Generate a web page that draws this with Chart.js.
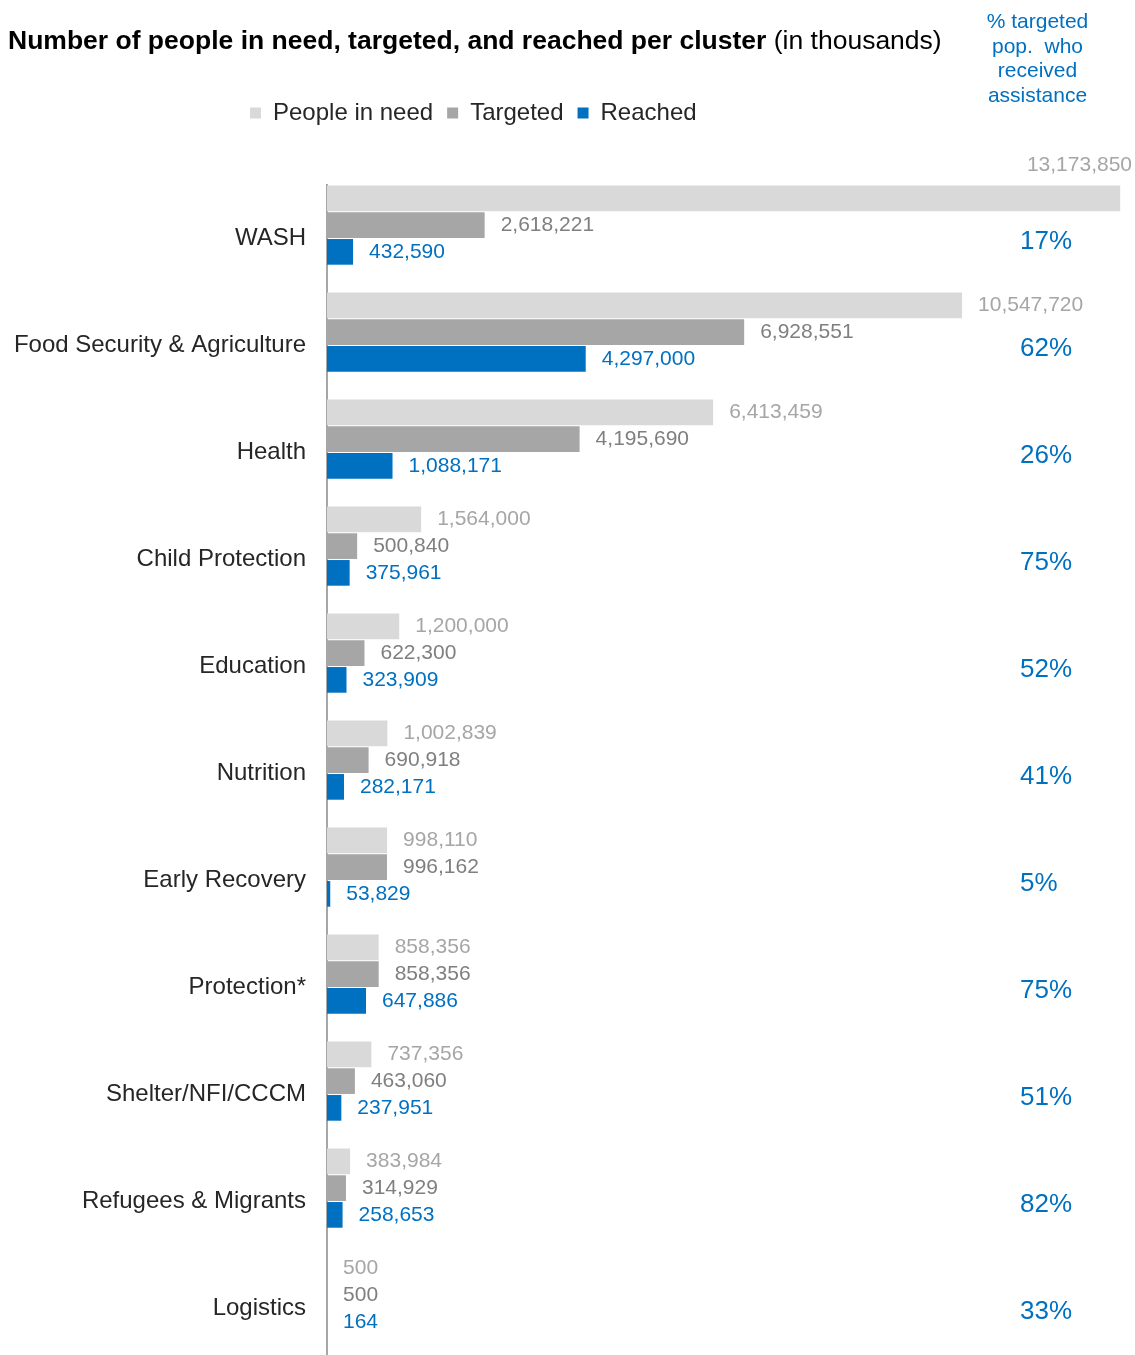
<!DOCTYPE html>
<html>
<head>
<meta charset="utf-8">
<script src="https://cdn.jsdelivr.net/npm/chart.js"></script>
<style>
  body { margin: 0; background: #fff; font-family: 'Liberation Sans', Arial, sans-serif; }
  .wrap { position: relative; width: 1135px; height: 1355px; overflow: hidden; }
  .title { position: absolute; left: 8px; top: 25px; font-size: 26.5px; line-height: 30px; color: #000; white-space: nowrap; }
  .title b { font-weight: bold; }
  .note { position: absolute; left: 960px; top: 9px; width: 155px; text-align: center; font-size: 21px; line-height: 24.5px; color: #0070c0; }
</style>
</head>
<body>
<div class="wrap">
  <canvas id="clusterChart" width="1135" height="1362"></canvas>
  <div class="title"><b>Number of people in need, targeted, and reached per cluster</b> (in thousands)</div>
  <div class="note">% targeted<br>pop.&nbsp; who<br>received<br>assistance</div>
</div>
<script>
'use strict';

// clusters, top to bottom
var clusters = ["WASH", "Food Security & Agriculture", "Health", "Child Protection", "Education",
  "Nutrition", "Early Recovery", "Protection*", "Shelter/NFI/CCCM", "Refugees & Migrants", "Logistics"];

var peopleInNeed = [13173850, 10547720, 6413459, 1564000, 1200000, 1002839, 998110, 858356, 737356, 383984, 500];
var targeted = [2618221, 6928551, 4195690, 500840, 622300, 690918, 996162, 858356, 463060, 314929, 500];
var reached = [432590, 4297000, 1088171, 375961, 323909, 282171, 53829, 647886, 237951, 258653, 164];

var barColors = ["#d9d9d9", "#a6a6a6", "#0070c0"];
var labelColors = ["#a6a6a6", "#7f7f7f", "#0070c0"];

var FONT = "'Liberation Sans', Arial, sans-serif";

// value labels next to each bar + % column on the right
var barLabels = {
  id: "barLabels",
  afterLayout: function (chart) {
    // legend sits left of centre, over the labels column
    chart.legend.left = 236;
  },
  afterDatasetsDraw: function (chart) {
    var ctx = chart.ctx;
    var area = chart.chartArea;
    ctx.save();
    ctx.font = "21px " + FONT;
    ctx.textBaseline = "middle";
    for (var d = 0; d < 3; d++) {
      var meta = chart.getDatasetMeta(d);
      meta.data.forEach(function (bar, i) {
        var txt = chart.data.datasets[d].data[i].toLocaleString("en-US");
        var w = ctx.measureText(txt).width;
        var x = bar.x + 16;
        ctx.fillStyle = labelColors[d];
        if (x + w > area.right) {
          // no room on the right: put it above the bar end
          ctx.textAlign = "right";
          ctx.fillText(txt, area.right - 3, bar.y - bar.height / 2 - 20);
        } else {
          ctx.textAlign = "left";
          ctx.fillText(txt, x, bar.y);
        }
      });
    }

    var yScale = chart.scales.y;
    ctx.font = "26px " + FONT;
    ctx.fillStyle = "#0070c0";
    ctx.textAlign = "left";
    clusters.forEach(function (c, i) {
      var pct = Math.round(reached[i] / targeted[i] * 100) + "%";
      ctx.fillText(pct, area.right - 115, yScale.getPixelForValue(i) + 3);
    });
    ctx.restore();
  }
};

new Chart(document.getElementById("clusterChart"), {
  type: "bar",
  data: {
    labels: clusters,
    datasets: [
      { label: "People in need", data: peopleInNeed, backgroundColor: barColors[0] },
      { label: "Targeted", data: targeted, backgroundColor: barColors[1] },
      { label: "Reached", data: reached, backgroundColor: barColors[2] },
      // empty slot under each group
      { label: "", data: clusters.map(function () { return null; }), backgroundColor: "rgba(0,0,0,0)" }
    ]
  },
  options: {
    indexAxis: "y",
    responsive: false,
    animation: false,
    layout: { padding: { top: 87, left: 0, right: 0, bottom: 0 } },
    datasets: {
      bar: { categoryPercentage: 1, barPercentage: 0.96, borderWidth: 0 }
    },
    scales: {
      x: {
        position: "top",
        min: 0,
        max: 13420000,
        ticks: { display: false },
        grid: { display: false },
        border: { display: false },
        afterFit: function (s) { s.height = 50; }
      },
      y: {
        grid: { display: false, drawTicks: false },
        border: { display: true, color: "#a6a6a6", width: 2 },
        ticks: { color: "#262626", padding: 21, font: { family: FONT, size: 24 } },
        afterFit: function (s) {
          s.width = 327;
          s.paddingTop = 0;
          s.paddingBottom = 0;
        }
      }
    },
    plugins: {
      legend: {
        position: "top",
        align: "start",
        labels: {
          boxWidth: 11,
          boxHeight: 11,
          padding: 14,
          color: "#262626",
          font: { family: FONT, size: 24 },
          filter: function (item) { return item.datasetIndex < 3; }
        }
      },
      tooltip: { enabled: false }
    }
  },
  plugins: [barLabels]
});
</script>
</body>
</html>
